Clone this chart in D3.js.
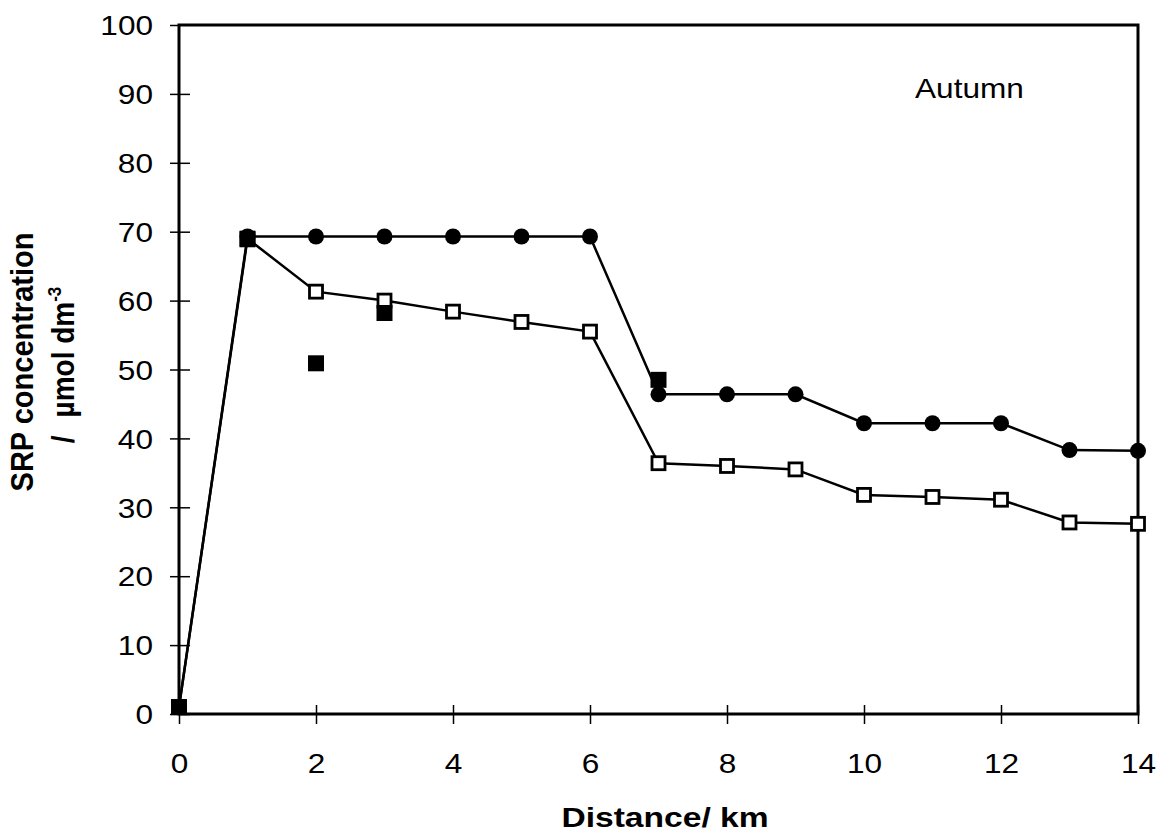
<!DOCTYPE html>
<html lang="en">
<head>
<meta charset="UTF-8">
<title>SRP concentration - Autumn</title>
<style>
  body { margin: 0; background: #fff; }
  svg { display: block; }
  text { font-family: "Liberation Sans", Arial, sans-serif; fill: #000; }
</style>
</head>
<body>
<svg width="1158" height="834"></svg>
<script src="https://d3js.org/d3.v7.min.js"></script>
<script>
// distance along the estuary (km)
const distance = [0, 1, 2, 3, 4, 5, 6, 7, 8, 9, 10, 11, 12, 13, 14];
// filled circles, joined by a line
const circleSeries = [1.0, 69.3, 69.3, 69.3, 69.3, 69.3, 69.3, 46.4, 46.4, 46.4, 42.2, 42.2, 42.2, 38.3, 38.2];
// open squares, joined by a line
const openSeries = [1.0, 69.0, 61.3, 60.0, 58.4, 56.9, 55.5, 36.4, 36.0, 35.5, 31.8, 31.5, 31.1, 27.8, 27.6];
// filled squares, no line
const filledX = [0, 1, 2, 3, 7];
const filledY = [1.0, 68.9, 50.9, 58.2, 48.5];

const xTicks = [0, 2, 4, 6, 8, 10, 12, 14];
const yTicks = [0, 10, 20, 30, 40, 50, 60, 70, 80, 90, 100];

const svg = d3.select("svg");
const mLeft = 179, mRight = 1138, mTop = 25, mBottom = 714;
const sx = 1.17; // printed text is a little wide

const x = d3.scaleLinear().domain([0, 14]).range([mLeft, mRight]);
const y = d3.scaleLinear().domain([0, 100]).range([mBottom, mTop]);

// axes
const xAxis = svg.append("g")
  .attr("transform", `translate(0,${mBottom})`)
  .call(d3.axisBottom(x).tickValues(xTicks).tickSize(0).tickPadding(0));
xAxis.select(".domain").remove();
xAxis.selectAll(".tick line").attr("y1", -9).attr("y2", 10)
  .attr("stroke", "#000").attr("stroke-width", 1.5);
xAxis.selectAll(".tick text")
  .attr("y", 59).attr("dy", null)
  .attr("transform", `scale(${sx},1)`)
  .style("font-size", "27px").attr("font-family", null);

const yAxis = svg.append("g")
  .attr("transform", `translate(${mLeft},0)`)
  .call(d3.axisLeft(y).tickValues(yTicks).tickSize(0).tickPadding(0));
yAxis.select(".domain").remove();
yAxis.selectAll(".tick line").attr("x1", -9).attr("x2", d => d === 100 ? 0 : 11)
  .attr("stroke", "#000").attr("stroke-width", 1.5);
yAxis.selectAll(".tick text")
  .attr("x", -26 / sx).attr("dy", "0.36em")
  .attr("transform", `scale(${sx},1)`)
  .style("font-size", "27px").attr("font-family", null);

// frame
svg.append("path")
  .attr("d", `M${mLeft},${mBottom}H${mRight}V${mTop}H${mLeft}Z`)
  .attr("fill", "none").attr("stroke", "#000").attr("stroke-width", 3);

// lines
const pts = (ys) => distance.map((d, i) => [d, ys[i]]);
const line = d3.line().x(d => x(d[0])).y(d => y(d[1]));

svg.append("path").datum(pts(openSeries)).attr("d", line)
  .attr("fill", "none").attr("stroke", "#000").attr("stroke-width", 2.5);
svg.append("path").datum(pts(circleSeries)).attr("d", line)
  .attr("fill", "none").attr("stroke", "#000").attr("stroke-width", 2.5);

// markers
svg.append("g").selectAll("rect").data(pts(openSeries)).join("rect")
  .attr("x", d => x(d[0]) - 6.5).attr("y", d => y(d[1]) - 6.5)
  .attr("width", 13).attr("height", 13)
  .attr("fill", "#fff").attr("stroke", "#000").attr("stroke-width", 2.8);

svg.append("g").selectAll("circle").data(pts(circleSeries)).join("circle")
  .attr("cx", d => x(d[0])).attr("cy", d => y(d[1])).attr("r", 8)
  .attr("fill", "#000");

svg.append("g").selectAll("rect").data(filledX.map((d, i) => [d, filledY[i]])).join("rect")
  .attr("x", d => x(d[0]) - 8).attr("y", d => y(d[1]) - 8)
  .attr("width", 16).attr("height", 16)
  .attr("fill", "#000");

// texts
svg.append("text")
  .attr("transform", `translate(915,98) scale(${sx},1)`)
  .style("font-size", "27px")
  .text("Autumn");

svg.append("text")
  .attr("transform", `translate(665,827) scale(1.2,1)`)
  .attr("text-anchor", "middle")
  .style("font-size", "28px").style("font-weight", "bold")
  .text("Distance/ km");

svg.append("text")
  .attr("transform", `translate(33,362) rotate(-90) scale(1,1.1)`)
  .attr("text-anchor", "middle")
  .style("font-size", "29px").style("font-weight", "bold")
  .text("SRP concentration");

const yl2 = svg.append("text")
  .attr("transform", `translate(74,365) rotate(-90) scale(1,1.1)`)
  .attr("text-anchor", "middle")
  .style("font-size", "28px").style("font-weight", "bold");
yl2.append("tspan").text("/");
yl2.append("tspan").attr("dx", 18).text("\u00B5mol dm");
yl2.append("tspan").attr("dy", -12).style("font-size", "17px").text("-3");
</script>
</body>
</html>
